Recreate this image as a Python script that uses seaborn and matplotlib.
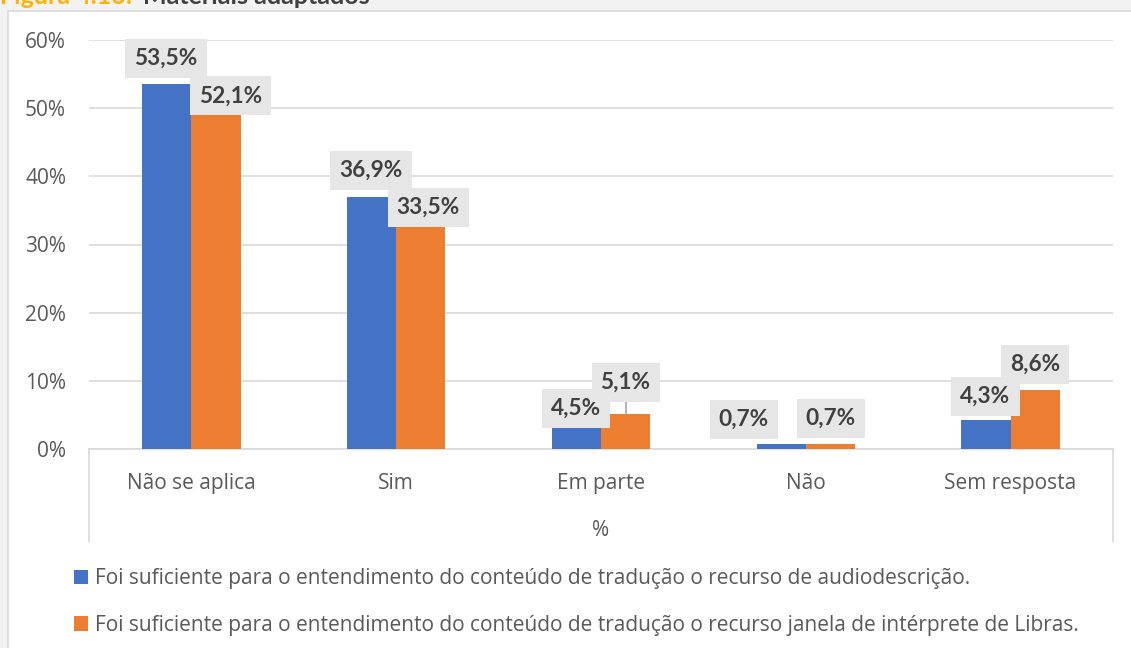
import pandas as pd
import numpy as np
import matplotlib.pyplot as plt
import matplotlib.patches as mpatches
import seaborn as sns

# Data
categories = ['Não se aplica', 'Sim', 'Em parte', 'Não', 'Sem resposta']
audiodescricao = [53.5, 36.9, 4.5, 0.7, 4.3]
libras = [52.1, 33.5, 5.1, 0.7, 8.6]
series_names = [
    'Foi suficiente para o entendimento do conteúdo de tradução o recurso de audiodescrição.',
    'Foi suficiente para o entendimento do conteúdo de tradução o recurso janela de intérprete de Libras.',
]
y_ticks = [0, 10, 20, 30, 40, 50, 60]

# label offsets (pixels, from the top centre of each bar), series by series
label_offsets = [
    [(-1, 26), (-0.5, 27), (-0.5, 10), (-37.5, 25), (-0.5, 23)],
    [(14.5, -2), (7.5, 13.5), (0, 32), (0.5, 26), (0, 26)],
]

df = pd.DataFrame({
    'categoria': categories * 2,
    'valor': audiodescricao + libras,
    'serie': [series_names[0]] * len(categories) + [series_names[1]] * len(categories),
})

sns.set_style('white')
plt.rcParams['font.family'] = ['Open Sans', 'DejaVu Sans']

W, H = 1131, 648
fig = plt.figure(figsize=(W / 100, H / 100), dpi=100, facecolor='#F2F2F2')

# white chart frame
fig.patches.append(mpatches.Rectangle((8 / W, -0.01), 1.0, (H - 11) / H + 0.01,
                                      transform=fig.transFigure, facecolor='white',
                                      edgecolor='#D9D9D9', linewidth=1.2, zorder=-5))

# partly clipped caption at the very top
fig.text(0 / W, 1 - 4 / H, 'Figura 4.16:', color='#FFB300', fontsize=18,
         fontweight='bold', family=['Lato', 'DejaVu Sans'], va='baseline')
fig.text(143 / W, 1 - 4 / H, 'Materiais adaptados', color='#404040', fontsize=18,
         fontweight='bold', family=['Lato', 'DejaVu Sans'], va='baseline')

ax = fig.add_axes([89 / W, 1 - 449 / H, (1113 - 89) / W, (449 - 40) / H])
ax.set_facecolor('white')

palette = ['#4472C4', '#ED7D31']
sns.barplot(data=df, x='categoria', y='valor', hue='serie', palette=palette,
            saturation=1, width=0.48, gap=0, linewidth=0, ax=ax, zorder=3)

ax.set_xlim(-0.5, len(categories) - 0.5)
ax.set_ylim(0, 60)
ax.set_yticks(y_ticks)
ax.set_yticklabels([f'{t}%' for t in y_ticks])
ax.yaxis.grid(True, color='#D9D9D9', linewidth=1.2, zorder=0)
ax.set_axisbelow(True)
for s in ['top', 'right', 'left']:
    ax.spines[s].set_visible(False)
ax.spines['bottom'].set_color('#D9D9D9')
ax.spines['bottom'].set_linewidth(1.2)
ax.tick_params(axis='y', length=0, pad=16.5, labelsize=15, labelcolor='#595959')
ax.tick_params(axis='x', length=0, pad=17, labelsize=15, labelcolor='#595959')
ax.set_xlabel('%', fontsize=15, color='#595959', labelpad=19)
ax.set_ylabel('')

# vertical frame lines of the category axis
for xa in [0, 1]:
    ax.plot([xa, xa], [0, -93 / 409], transform=ax.transAxes, color='#D9D9D9',
            linewidth=1.2, clip_on=False, scalex=False, scaley=False)

# value labels
for si, container in enumerate(ax.containers):
    vals = audiodescricao if si == 0 else libras
    for bi, bar in enumerate(container):
        dx, dy = label_offsets[si][bi]
        xc = bar.get_x() + bar.get_width() / 2
        yt = bar.get_height()
        txt = f'{vals[bi]:.1f}%'.replace('.', ',')
        ax.annotate(txt, (xc, yt), xytext=(dx, dy), textcoords='offset pixels',
                    ha='center', va='center', fontsize=16.3, fontweight='bold',
                    color='#404040', family=['Lato', 'DejaVu Sans'], zorder=6,
                    bbox=dict(boxstyle='square,pad=0.4', facecolor='#E7E6E6',
                              edgecolor='none'))
        if si == 1 and bi == 2:
            # leader line from the label down to the bar
            ax.plot([xc, xc], [yt, yt + 13 / 6.82], color='#A6A6A6', linewidth=1.2,
                    zorder=5)

# legend below the plot
handles, labels = ax.get_legend_handles_labels()
ax.legend_.remove()
leg = fig.legend(handles, labels, loc='upper left', bbox_to_anchor=(66 / W, 1 - 560 / H),
                 frameon=False, fontsize=15, labelcolor='#595959', handlelength=0.67,
                 handleheight=0.67, handletextpad=0.3, labelspacing=1.22,
                 borderaxespad=0)

fig.savefig('out.png', dpi=100, facecolor=fig.get_facecolor())
